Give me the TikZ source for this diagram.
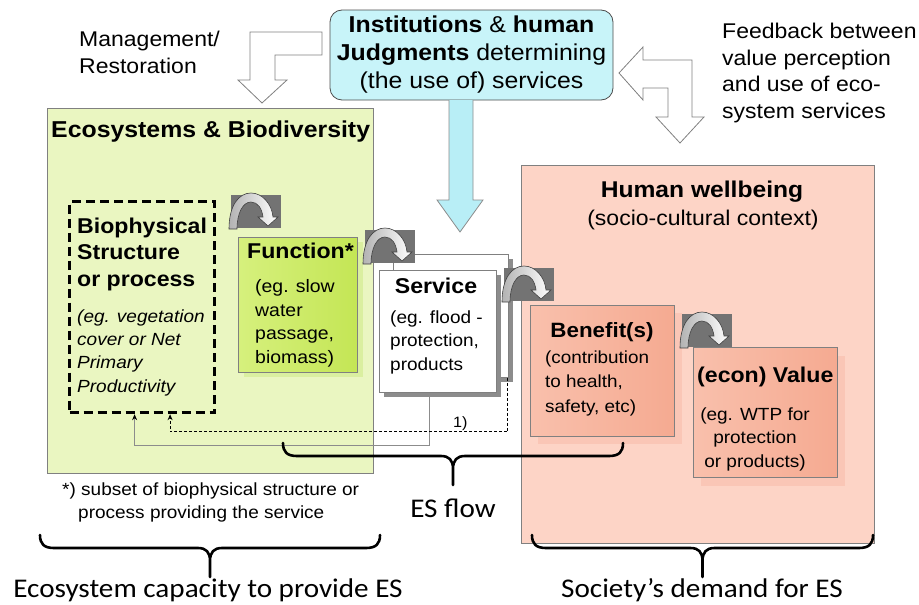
\documentclass[tikz,border=0pt]{standalone}
\usepackage{fontspec}
\setmainfont[FakeStretch=1.08]{Liberation Sans}
\newfontfamily\calfont[FakeStretch=1.08]{Carlito}
\usetikzlibrary{shadows,arrows.meta}
\definecolor{ecoGreen}{RGB}{234,246,193}
\definecolor{funGreenA}{RGB}{214,240,125}
\definecolor{funGreenB}{RGB}{196,230,85}
\definecolor{funShadow}{RGB}{218,239,160}
\definecolor{humRose}{RGB}{253,212,198}
\definecolor{benRoseA}{RGB}{249,192,172}
\definecolor{benRoseB}{RGB}{245,170,145}
\definecolor{benShadow}{RGB}{250,198,182}
\definecolor{instCyan}{RGB}{200,244,249}
\definecolor{flowCyan}{RGB}{184,238,246}
\tikzset{
	box/.style = {
		shape=rectangle,
		draw=black!50,
		line width=0.8pt,
		anchor=north west,
		inner sep=0pt
	},
	hollow/.style = {draw=black!50, fill=white, line width=0.8pt},
	title/.style = {font=\bfseries\fontsize{21.4}{26.5}\selectfont, inner sep=0pt, align=left},
	body/.style = {font=\fontsize{17.6}{23.5}\selectfont, inner sep=0pt, align=left},
	remark/.style = {font=\fontsize{21.3}{26.5}\selectfont, inner sep=0pt, align=left},
	bracelabel/.style = {font=\calfont\fontsize{27}{32}\selectfont, inner sep=0pt, anchor=base},
	flowline/.style = {draw=black!45, line width=1pt, -{Stealth[black,length=6pt,width=5pt]}},
	dotline/.style = {draw=black, line width=1pt, dash pattern=on 3pt off 2pt, -{Stealth[black,length=6pt,width=5pt]}},
	turn/.pic = {
		\fill[black!55] (0,0) rectangle (50,33);
		\draw[black!75, line width=0.6pt, left color=black!30, right color=white]
			(-2,34) .. controls (-2,10) and (8,-2) .. (20,-2)
			.. controls (32,-2) and (41,10) .. (42,22)
			-- (47,22) -- (37,31) -- (27,22) -- (32,22)
			.. controls (31,14) and (27,7) .. (20,7)
			.. controls (12,7) and (6,18) .. (6,34) -- cycle;
	},
	curly/.pic = {
		\draw[line width=2.6pt, line cap=round, line join=round]
			(0,0) .. controls (0,9) and (4,13) .. (14,13) -- ({#1/2-12},13)
			.. controls ({#1/2-4},13) and ({#1/2},17) .. ({#1/2},26) -- ({#1/2},42)
			({#1/2},26) .. controls ({#1/2},17) and ({#1/2+4},13) .. ({#1/2+12},13)
			-- ({#1-14},13) .. controls ({#1-4},13) and (#1,9) .. (#1,0);
	}
}
\begin{document}
\begin{tikzpicture}[x=1pt,y=-1pt]
		\useasboundingbox (0,0) rectangle (919,605);
		% the two big frames
		\node[box, fill=ecoGreen, minimum width=326, minimum height=365] (eco) at (47,108) {};
		\node[box, fill=humRose, minimum width=353, minimum height=378] (hum) at (521,165) {};
		% institutions and the arrows round it
		\node[draw=black!70, line width=0.8pt, fill=instCyan, rounded corners=12pt,
			minimum width=283, minimum height=90, align=center, inner sep=0pt,
			font=\fontsize{23}{28}\selectfont] (inst) at (471.5,55) {
			\textbf{Institutions} \& \textbf{human}\\
			\textbf{Judgments} determining\\
			(the use of) services
		};
		\draw[draw=black!45, line width=0.8pt, fill=flowCyan]
			(449,100) -- (449,200) -- (437,200) -- (460,232) -- (483,200) -- (473,200) -- (473,100);
		\draw[hollow] (322,32) -- (250,32) -- (250,80) -- (238,80) -- (262,103)
			-- (287,80) -- (275,80) -- (275,55) -- (322,55) -- cycle;
		\draw[hollow] (643,47) -- (643,60) -- (692,60) -- (692,117) -- (704,117) -- (680,143)
			-- (656,117) -- (668,117) -- (668,88) -- (643,88) -- (643,100) -- (619,73) -- cycle;
		% boxes of the chain
		\node[box, draw=black, line width=3.2pt, dash pattern=on 9pt off 5pt,
			minimum width=145, minimum height=211] (bio) at (68,200) {};
		\node[box, left color=funGreenA, right color=funGreenB, minimum width=119, minimum height=135,
			drop shadow={shadow xshift=6pt, shadow yshift=-5pt, fill=funShadow, opacity=1}] (fun) at (238,237) {};
		\node[box, fill=white, minimum width=115, minimum height=123,
			drop shadow={shadow xshift=5pt, shadow yshift=-5pt, fill=black!45, opacity=1}] (svcBack) at (393,254) {};
		\node[box, fill=white, minimum width=117, minimum height=122,
			drop shadow={shadow xshift=5pt, shadow yshift=-5pt, fill=black!45, opacity=1}] (svcFront) at (379,270) {};
		\node[box, left color=benRoseA, right color=benRoseB, minimum width=144, minimum height=131,
			drop shadow={shadow xshift=8pt, shadow yshift=-8pt, fill=benShadow, opacity=1}] (ben) at (530,305) {};
		\node[box, left color=benRoseA, right color=benRoseB, minimum width=144, minimum height=130,
			drop shadow={shadow xshift=8pt, shadow yshift=-9pt, fill=benShadow, opacity=1}] (val) at (693,347) {};
		% flows back to the structure
		\draw[flowline] ([xshift=-8.5pt]svcFront.south) -- ++(0,53) -| ([xshift=-7.5pt]bio.south);
		\draw[dotline] ([xshift=-1pt]svcBack.south east) -- ++(0,54) -| ([xshift=28pt]bio.south);
		\node[inner sep=0pt, anchor=base west, font=\fontsize{15}{18}\selectfont] (note1) at (453,427) {1)};
		% cascade steps
		\pic at (231,195) {turn};
		\pic at (365,230) {turn};
		\pic at (504,268) {turn};
		\pic at (682,314) {turn};
		% braces
		\pic at (283,443) {curly=340};
		\pic at (40,535) {curly=340};
		\pic at (532,535) {curly=341};
		% texts (multi-line nodes sit on the baseline of their last line)
		\node[title, anchor=base west, font=\bfseries\fontsize{23}{28}\selectfont] (ecoTitle) at (51,137) {Ecosystems \& Biodiversity};
		\node[title, anchor=base west] (bioTitle) at (77,286) {Biophysical\\Structure\\or process};
		\node[body, anchor=base west, font=\itshape\fontsize{17.6}{23.3}\selectfont] (bioText) at (77,392) {
			(eg. vegetation\\cover or Net\\Primary\\Productivity};
		\node[title, anchor=base west] (funTitle) at (247,258) {Function*};
		\node[body, anchor=base west, font=\fontsize{18}{23.5}\selectfont] (funText) at (255,363) {(eg. slow\\water\\passage,\\biomass)};
		\node[title, anchor=base] (svcTitle) at (436,293) {Service};
		\node[body, anchor=base west] (svcText) at (390,370) {(eg. flood -\\protection,\\products};
		\node[title, anchor=base, font=\bfseries\fontsize{20.7}{26}\selectfont] (benTitle) at (602,337) {Benefit(s)};
		\node[body, anchor=base west, font=\fontsize{17.5}{24.5}\selectfont] (benText) at (545,412) {(contribution\\to health,\\safety, etc)};
		\node[title, anchor=base west] (valTitle) at (697,382) {(econ) Value};
		\node[body, anchor=base, align=center] (valText) at (755,467) {(eg. WTP for\\protection\\or products)};
		\node[title, anchor=base, font=\bfseries\fontsize{22.8}{28}\selectfont] (humTitle) at (702,197) {Human wellbeing};
		\node[remark, anchor=base] (humText) at (703,225) {(socio-cultural context)};
		\node[remark, anchor=base west] (mgmt) at (79,73) {Management/\\Restoration};
		\node[remark, anchor=base west] (feedback) at (722,118) {Feedback between\\value perception\\and use of eco-\\system services};
		\node[body, anchor=base west, font=\fontsize{17.6}{23}\selectfont] (footnote) at (62,518) {
			*) subset of biophysical structure or\\\hspace*{16pt}process providing the service};
		\node[bracelabel] (esflow) at (453,517) {ES flow};
		\node[bracelabel] (capacity) at (208,597) {Ecosystem capacity to provide ES};
		\node[bracelabel] (demand) at (702,597) {Society’s demand for ES};
\end{tikzpicture}
\end{document}
